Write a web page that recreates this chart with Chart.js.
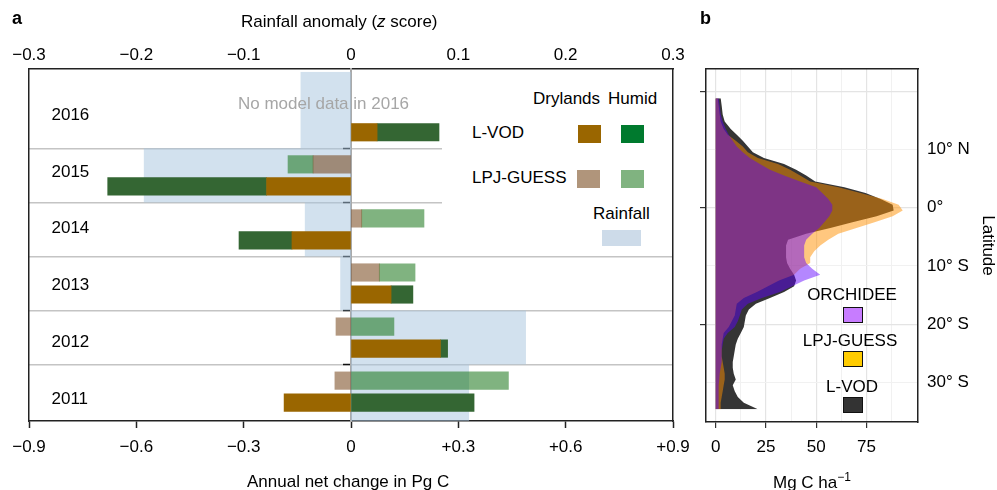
<!DOCTYPE html>
<html><head><meta charset="utf-8">
<script src="https://cdn.jsdelivr.net/npm/chart.js@4.4.0/dist/chart.umd.min.js"></script>
<style>
html,body{margin:0;padding:0;background:#fff;}
body{width:997px;height:490px;position:relative;overflow:hidden;font-family:'Liberation Sans',Arial,Helvetica,sans-serif;color:#000;}
canvas{position:absolute;top:0;}
#ca{left:0;}
#cb{left:690px;}
.t{position:absolute;font-size:17px;line-height:20px;white-space:nowrap;}
.key{position:absolute;box-sizing:border-box;}
.bk{border:1.2px solid #111;}
sup{font-size:12px;line-height:0;vertical-align:7px;}
</style></head><body>
<canvas id="ca" width="700" height="490"></canvas>
<canvas id="cb" width="307" height="490"></canvas>

<div class="t" style="left:12px;top:8px;font-weight:bold;font-size:18px">a</div>
<div class="t" style="left:700px;top:8px;font-weight:bold;font-size:18px">b</div>
<div class="t" style="left:241px;top:12px">Rainfall anomaly (<i>z</i> score)</div>
<div class="t" style="left:238px;top:94px;color:#a6a6a6">No model data in 2016</div>
<div class="t" style="left:247px;top:472px">Annual net change in Pg C</div>

<div class="key" style="left:442px;top:70px;width:230px;height:183px;background:#fff"></div>
<div class="t" style="left:533px;top:89px">Drylands</div>
<div class="t" style="left:608px;top:89px">Humid</div>
<div class="t" style="left:472px;top:123px">L-VOD</div>
<div class="t" style="left:472px;top:168px">LPJ-GUESS</div>
<div class="t" style="left:593px;top:204px">Rainfall</div>
<div class="key" style="left:578px;top:125px;width:23px;height:18px;background:#9a6600"></div>
<div class="key" style="left:621px;top:125px;width:23px;height:18px;background:#007a2e"></div>
<div class="key" style="left:577px;top:170px;width:23px;height:18px;background:#b0957b"></div>
<div class="key" style="left:621px;top:170px;width:23px;height:18px;background:#80b380"></div>
<div class="key" style="left:602px;top:230px;width:39px;height:16px;background:#cddbe9"></div>

<div class="t" style="left:773px;top:473px">Mg C ha<sup>&minus;1</sup></div>
<div class="t" style="left:802px;top:285px;width:100px;text-align:center">ORCHIDEE</div>
<div class="key bk" style="left:843px;top:307px;width:20px;height:16px;background:#c77cff"></div>
<div class="t" style="left:800px;top:331px;width:100px;text-align:center">LPJ-GUESS</div>
<div class="key bk" style="left:843px;top:351px;width:20px;height:16px;background:#ffcc00"></div>
<div class="t" style="left:802px;top:377px;width:100px;text-align:center">L-VOD</div>
<div class="key bk" style="left:843px;top:397px;width:20px;height:16px;background:#333333"></div>

<script>
// ---------- Panel a data ----------
const YEARS = [2016, 2015, 2014, 2013, 2012, 2011];
const LVOD_DRY   = [0.073, -0.236, -0.165, 0.112, 0.250, -0.187];
const LVOD_HUMID = [0.173, -0.444, -0.148, 0.061, 0.020, 0.344];
const LPJ_DRY    = [null, -0.106, 0.030, 0.079, -0.042, -0.045];
const LPJ_HUMID  = [null, -0.070, 0.174, 0.100, 0.120, 0.440];
const RAIN_Z     = [-0.047, -0.193, -0.043, -0.010, 0.163, 0.110];
const PG_TICKS = [-0.9, -0.6, -0.3, 0, 0.3, 0.6, 0.9];
const Z_TICKS  = [-0.3, -0.2, -0.1, 0, 0.1, 0.2, 0.3];

// ---------- Panel b data ----------
const LAT = [18.8, 17.5, 16, 14.8, 13.5, 12.5, 11.5, 10.5, 9.5, 8.5, 7.5, 6.5, 5.5, 4.5, 3.5, 2.5, 1.5, 0.5,
  -0.5, -1.5, -2.5, -3.5, -4.5, -5.5, -6.5, -7.5, -8.5, -9.5, -10.5, -11.5, -12.5, -13.5, -14.5, -15.5, -16.5,
  -17.5, -18.5, -19.5, -20.5, -21.5, -22.5, -23.5, -24.5, -25.5, -26.5, -27.5, -28.5, -29.5, -30.5, -31.5,
  -32.5, -33.5, -34.6];
const LVOD_B = [2.5, 3, 3.5, 4.5, 7.5, 10.5, 13.5, 16, 18.5, 24, 34, 40, 45, 49.5, 64, 74.5, 82, 88,
  88.5, 80, 68, 57, 45, 36, 35, 35, 35, 35.5, 37, 39, 40, 39, 34, 27, 20, 16.5, 15, 14.5, 14, 12.5, 11,
  10, 9.5, 9, 8.5, 8.5, 9, 10, 8.5, 9.5, 11, 14, 21];
const LPJ_B = [1, 1.5, 2, 2.5, 4, 6, 10, 13.5, 16, 21, 31, 37, 42, 47, 61, 72, 83, 91,
  93, 88, 79, 70, 61, 56, 52, 49, 47, 47, 42, 39, 31.5, 26, 20.5, 14, 10.5, 10, 9.5, 8, 6.5, 4, 3.5,
  3, 3, 3, 3.5, 4, 4.5, 4.5, 4, 3.5, 3, 2.5, 2.5];
const ORC_B = [1.5, 2, 2.5, 3.5, 5, 6.5, 8.5, 10.5, 13.5, 17, 22, 27, 34, 42, 50, 53, 56, 58,
  58, 56.5, 54, 51.5, 48, 45, 44, 44, 44, 45, 48, 52, 44, 38, 32, 23, 16, 13, 12, 11, 9.5, 6, 4,
  3.5, 3, 3, 3, 2.5, 2, 1.8, 1.5, 1.5, 1.5, 1.5, 1.5];
const BX_GRID = [0, 12.5, 25, 37.5, 50, 62.5, 75, 87.5];
const BX_LABELS = [0, 25, 50, 75];
const LAT_GRID = [20, 10, 0, -10, -20, -30];
const LAT_MAJOR = [20, 0, -20];
const LAT_LABELS = [10, 0, -10, -20, -30];

const FONT = "'Liberation Sans', Arial, Helvetica, sans-serif";
Chart.defaults.font.family = FONT;
Chart.defaults.font.size = 17;
Chart.defaults.color = '#000';
Chart.defaults.animation = false;

const FRAME = {color: '#222', width: 1.5};
const setTicks = arr => s => { s.ticks = arr.map(v => ({value: v})); };
const fmtPg = v => { v = Math.round(v * 10) / 10; return v === 0 ? '0' : (v > 0 ? '+' : '\u2212') + Math.abs(v).toFixed(1); };
const fmtZ = v => { v = Math.round(v * 10) / 10; return v === 0 ? '0' : (v < 0 ? '\u2212' : '') + Math.abs(v).toFixed(1); };

// y ranges (panel a)
const Y_MIN = 2010.457, Y_MAX = 2016.967;
const LAB_MIN = 2010.61, LAB_MAX = 2016.818;
const SEPS = YEARS.slice(1).map(y => y + 0.5);

const barDs = (label, arr, stack, color, order) => ({
  type: 'bar', label, stack, order, indexAxis: 'y', xAxisID: 'x', yAxisID: 'y',
  data: YEARS.map((yr, i) => ({x: arr[i], y: yr})),
  backgroundColor: color, borderWidth: 0, barThickness: 22, maxBarThickness: 17.5
});

const rainPts = [];
YEARS.forEach((yr, i) => {
  const top = i === 0 ? Y_MAX - 0.05 : yr + 0.5;
  const bot = i === YEARS.length - 1 ? Y_MIN : yr - 0.5;
  rainPts.push({x: RAIN_Z[i], y: top}, {x: RAIN_Z[i], y: bot});
});

const yBase = {type: 'linear', axis: 'y', min: Y_MIN, max: Y_MAX, offset: false, afterFit: s => { s.width = 0; }};

new Chart(document.getElementById('ca'), {
  type: 'bar',
  data: {datasets: [
    barDs('LPJ-GUESS Drylands', LPJ_DRY, 'lpj', 'rgba(117,68,24,0.55)', 0),
    barDs('LPJ-GUESS Humid', LPJ_HUMID, 'lpj', 'rgba(24,117,24,0.55)', 1),
    barDs('L-VOD Drylands', LVOD_DRY, 'lvod', '#9a6600', 2),
    barDs('L-VOD Humid', LVOD_HUMID, 'lvod', '#346633', 3),
    {type: 'line', label: 'Rainfall', order: 4, indexAxis: 'y', xAxisID: 'x2', yAxisID: 'y',
     data: rainPts, fill: 'origin', backgroundColor: 'rgba(166,196,222,0.5)', borderWidth: 0,
     pointRadius: 0, pointHoverRadius: 0, tension: 0}
  ]},
  options: {
    indexAxis: 'y', responsive: false, animation: false, events: [],
    layout: {padding: {left: 29, right: 27, top: 0, bottom: 0}},
    plugins: {legend: {display: false}, tooltip: {enabled: false}},
    scales: {
      x: {type: 'linear', position: 'bottom', min: -0.9, max: 0.9,
        afterBuildTicks: setTicks(PG_TICKS), afterFit: s => { s.height = 69; },
        ticks: {padding: 9, maxRotation: 0, autoSkip: false, callback: v => fmtPg(v)},
        grid: {drawOnChartArea: false, drawTicks: true, tickLength: 7, tickColor: '#222', tickWidth: 1.5},
        border: FRAME},
      x2: {type: 'linear', axis: 'x', position: 'top', min: -0.3, max: 0.3,
        afterBuildTicks: setTicks(Z_TICKS), afterFit: s => { s.height = 69; },
        ticks: {padding: 3, maxRotation: 0, autoSkip: false, callback: v => fmtZ(v)},
        grid: {drawOnChartArea: false, drawTicks: false},
        border: FRAME},
      y: Object.assign({}, yBase, {position: 'left',
        ticks: {display: false}, grid: {drawOnChartArea: false, drawTicks: false, offset: false},
        border: FRAME}),
      ySep: Object.assign({}, yBase, {position: 'left', afterBuildTicks: setTicks(SEPS),
        ticks: {display: false}, grid: {color: '#c4c4c4', lineWidth: 1.5, drawTicks: false, offset: false},
        border: {display: false}}),
      yLab: {type: 'linear', axis: 'y', position: 'left', min: LAB_MIN, max: LAB_MAX, offset: false,
        afterFit: s => { s.width = 0; }, afterBuildTicks: setTicks(YEARS),
        ticks: {mirror: true, padding: 22.5, callback: v => String(v)},
        grid: {display: false, offset: false}, border: {display: false}},
      yZero: Object.assign({}, yBase, {position: {x: 0}, afterBuildTicks: setTicks(SEPS),
        ticks: {display: false},
        grid: {drawOnChartArea: false, drawTicks: true, tickLength: 7, tickColor: '#111', tickWidth: 1.5, offset: false},
        border: {color: '#aaaaaa', width: 2}}),
      yR: Object.assign({}, yBase, {position: 'right',
        ticks: {display: false}, grid: {drawOnChartArea: false, drawTicks: false, offset: false},
        border: FRAME})
    }
  }
});

// ---------- Panel b ----------
const profile = (label, arr, color) => ({
  label, indexAxis: 'y', xAxisID: 'x', yAxisID: 'y',
  data: LAT.map((lat, i) => ({x: arr[i], y: lat})),
  fill: 'origin', backgroundColor: color, borderWidth: 0, pointRadius: 0, pointHoverRadius: 0, tension: 0
});
const isMajX = v => BX_LABELS.includes(v);
const isMajY = v => LAT_MAJOR.includes(v);
const latLabel = v => v > 0 ? v + '\u00b0 N' : v < 0 ? (-v) + '\u00b0 S' : '0\u00b0';
const BX_MIN = -4.8, BX_MAX = 100.6, LAT_MIN = -36.8, LAT_MAX = 23.8;

new Chart(document.getElementById('cb'), {
  type: 'line',
  data: {datasets: [
    profile('ORCHIDEE', ORC_B, 'rgba(95,0,255,0.47)'),
    profile('LPJ-GUESS', LPJ_B, 'rgba(255,143,0,0.5)'),
    profile('L-VOD', LVOD_B, '#353535')
  ]},
  options: {
    indexAxis: 'y', responsive: false, animation: false, events: [],
    layout: {padding: 0},
    plugins: {legend: {display: false}, tooltip: {enabled: false}},
    scales: {
      x: {type: 'linear', position: 'bottom', min: BX_MIN, max: BX_MAX,
        afterBuildTicks: setTicks(BX_GRID), afterFit: s => { s.height = 68; },
        ticks: {padding: 9, maxRotation: 0, autoSkip: false, callback: v => isMajX(v) ? String(v) : ''},
        grid: {color: c => c.tick && isMajX(c.tick.value) ? '#e4e4e4' : '#f1f1f1',
               lineWidth: c => c.tick && isMajX(c.tick.value) ? 1.2 : 1,
               drawTicks: true, tickLength: 6, tickWidth: 1.2,
               tickColor: c => c.tick && isMajX(c.tick.value) ? '#333' : 'rgba(0,0,0,0)'},
        border: FRAME},
      xT: {type: 'linear', axis: 'x', position: 'top', min: BX_MIN, max: BX_MAX,
        afterFit: s => { s.height = 69; }, ticks: {display: false},
        grid: {drawOnChartArea: false, drawTicks: false}, border: FRAME},
      y: {type: 'linear', axis: 'y', position: 'left', min: LAT_MIN, max: LAT_MAX, offset: false,
        afterBuildTicks: setTicks(LAT_GRID), afterFit: s => { s.width = 16; },
        ticks: {display: false},
        grid: {color: c => c.tick && isMajY(c.tick.value) ? '#e4e4e4' : '#f1f1f1',
               lineWidth: c => c.tick && isMajY(c.tick.value) ? 1.2 : 1,
               drawTicks: true, tickLength: 6, tickWidth: 1.2, offset: false,
               tickColor: c => c.tick && isMajY(c.tick.value) ? '#333' : 'rgba(0,0,0,0)'},
        border: FRAME},
      yR: {type: 'linear', axis: 'y', position: 'right', min: LAT_MIN, max: LAT_MAX, offset: false,
        afterBuildTicks: setTicks(LAT_LABELS), afterFit: s => { s.width = 79; },
        ticks: {padding: 9, callback: v => latLabel(v)},
        grid: {drawOnChartArea: false, drawTicks: false, offset: false},
        border: FRAME,
        title: {display: true, text: 'Latitude', padding: {top: -1, bottom: 0}}}
    }
  }
});
</script>
</body></html>
